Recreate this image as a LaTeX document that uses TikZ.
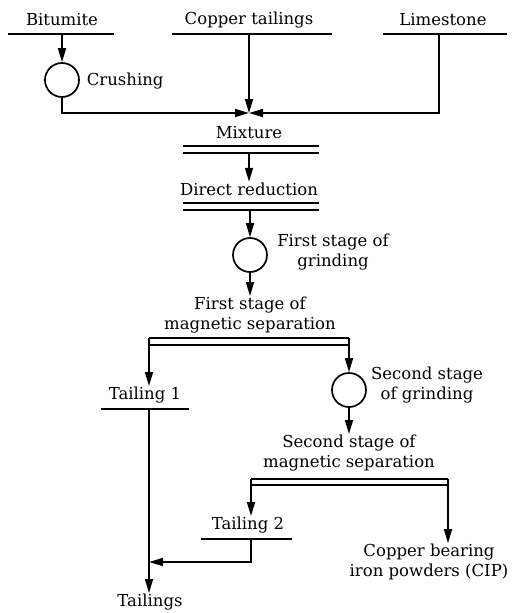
\documentclass[tikz,border=0pt]{standalone}
\usepackage{fontspec}
\setmainfont{DejaVu Serif}
\usetikzlibrary{arrows.meta}
\begin{document}
\begin{tikzpicture}[x=1pt, y=-1pt,
	>={Stealth[length=14pt,width=8pt,inset=0pt]}, line width=1.7pt,
	lbl/.style={font=\fontsize{16.5}{20}\selectfont, align=center, inner sep=0pt},
	mill/.style={draw, circle, minimum size=34pt, inner sep=0pt},
	bar/.style={line width=1.4pt},
	topbar/.style={line width=2.4pt}]
	\useasboundingbox (0,0) rectangle (514,613);

	%% materie prime
	\node[lbl] (bit) at (62,20) {Bitumite};
	\node[lbl] (cu) at (249,20) {Copper tailings};
	\node[lbl] (lime) at (443,20) {Limestone};
	\draw[bar] (8,34) -- (114,34);
	\draw[bar] (172,34) -- (332,34);
	\draw[bar] (383,34) -- (507,34);
	\coordinate (bitbar) at (62,34);
	\coordinate (cubar) at (249,34);
	\coordinate (limebar) at (439,34);

	%% frantumazione e miscela
	\node[mill] (crush) at (62,80) {};
	\node[lbl, anchor=west] (crushlbl) at (86,81) {Crushing};
	\coordinate (mix) at (249,113);
	\draw[->] (bitbar) -- (crush.north);
	\draw[->] (crush.south) |- (mix);
	\draw[->] (cubar) -- (mix);
	\draw[->] (limebar) |- (mix);

	\node[lbl] (mixlbl) at (249,133) {Mixture};
	\draw[topbar] (183,146) -- (319,146);
	\draw[bar] (183,153) -- (319,153);
	\coordinate (mixbar) at (249,153);
	\node[lbl] (dr) at (249,189) {Direct reduction};
	\draw[->] (mixbar) -- (dr.north);
	\draw[topbar] (183,203) -- (319,203);
	\draw[bar] (183,210) -- (319,210);
	\coordinate (drbar) at (250,210);

	%% prima macinazione e separazione
	\node[mill] (grindA) at (250,255) {};
	\node[lbl] (grindAlbl) at (333,252) {First stage of\\grinding};
	\draw[->] (drbar) -- (grindA.north);
	\node[lbl] (sepA) at (250,315) {First stage of\\magnetic separation};
	\draw[->] (grindA.south) -- (sepA.north);
	\draw[topbar] (149,338) -- (349,338);
	\draw[bar] (149,345) -- (349,345);
	\coordinate (sepAl) at (149,338);
	\coordinate (sepAr) at (349,338);

	\node[lbl] (tailA) at (145,395) {Tailing 1};
	\draw[bar] (101,409) -- (189,409);
	\coordinate (tailAbar) at (149,409);
	\draw[->] (sepAl) -- (tailA.north -| sepAl);

	%% seconda macinazione e separazione
	\node[mill] (grindB) at (349,390) {};
	\node[lbl] (grindBlbl) at (427,385) {Second stage\\of grinding};
	\draw[->] (sepAr) -- (grindB.north);
	\node[lbl] (sepB) at (349,453) {Second stage of\\magnetic separation};
	\draw[->] (grindB.south) -- (sepB.north -| grindB);
	\draw[topbar] (251,479) -- (448,479);
	\draw[bar] (251,485) -- (448,485);
	\coordinate (sepBl) at (251,479);
	\coordinate (sepBr) at (448,479);

	\node[lbl] (tailB) at (248,525) {Tailing 2};
	\draw[bar] (201,539) -- (292,539);
	\coordinate (tailBbar) at (251,539);
	\draw[->] (sepBl) -- (tailB.north -| sepBl);
	\node[lbl] (cip) at (429,562) {Copper bearing\\iron powders (CIP)};
	\draw[->] (sepBr) -- (cip.north -| sepBr);

	%% sterili
	\node[lbl] (tails) at (150,602) {Tailings};
	\draw[->] (tailAbar) -- (tails.north -| tailAbar);
	\draw[->] (tailBbar) |- (149,562);
\end{tikzpicture}
\end{document}
